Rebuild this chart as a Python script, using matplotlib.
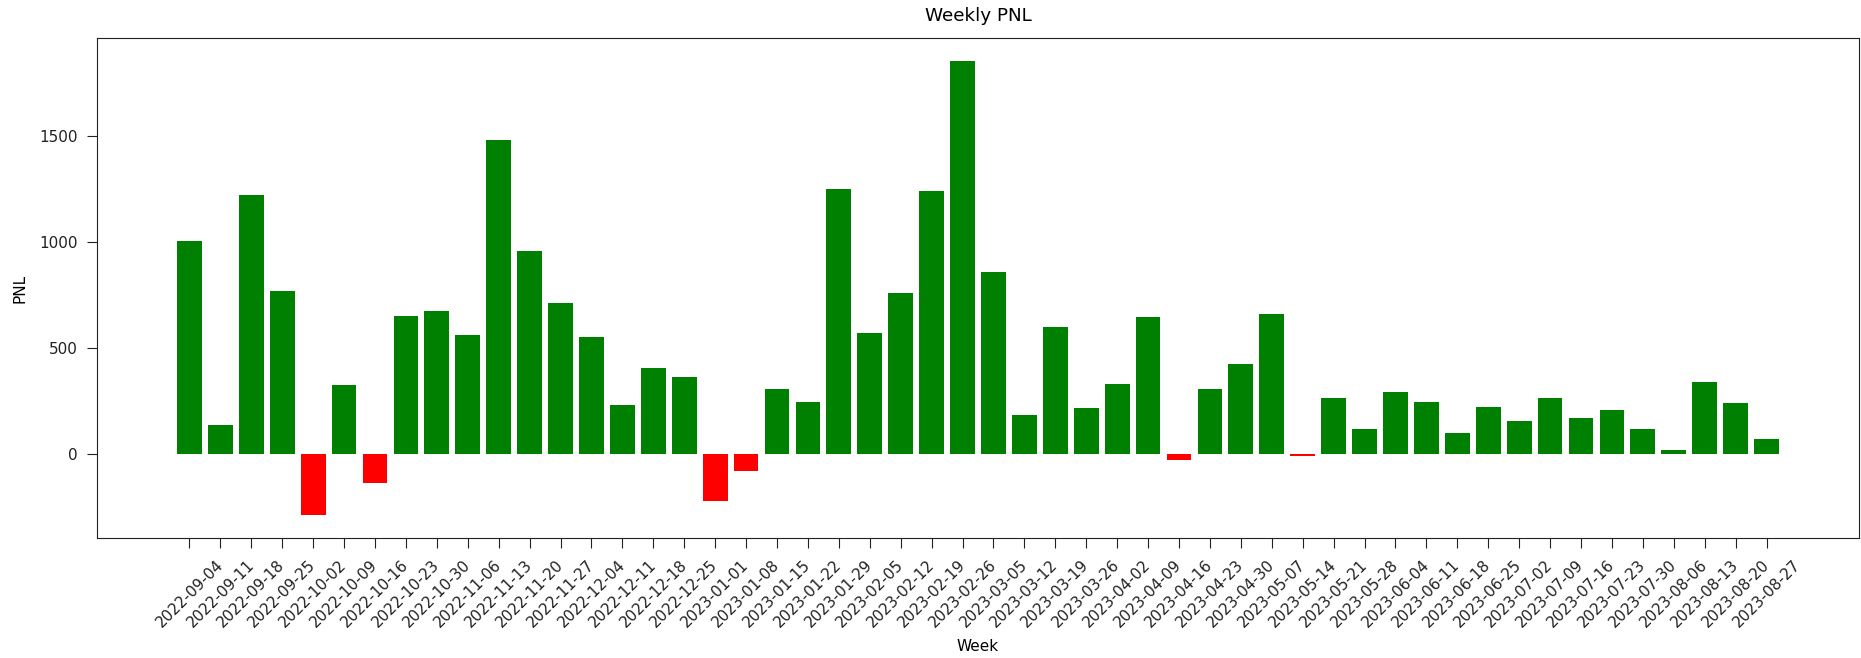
import pandas as pd
import matplotlib
matplotlib.use('Agg')
import matplotlib.pyplot as plt

plt.rcParams['font.family'] = 'DejaVu Sans'
plt.rcParams['font.size'] = 11

# weekly start dates (week labels)
weeks = pd.date_range('2022-09-04', '2023-08-27', freq='7D').strftime('%Y-%m-%d').tolist()

# PNL per week
pnl = [1003, 137, 1220, 767, -291, 322, -137, 652, 674, 560,
       1481, 959, 712, 552, 230, 406, 360, -222, -83, 307,
       245, 1248, 568, 758, 1241, 1855, 858, 184, 599, 215,
       330, 645, -30, 307, 423, 659, -13, 261, 115, 292,
       245, 99, 222, 154, 261, 168, 208, 115, 16, 338,
       237, 69]

colors = ['green' if v >= 0 else 'red' for v in pnl]

fig = plt.figure(figsize=(18.61, 6.58), dpi=100)
ax = fig.add_axes([97 / 1861, 120 / 658, 1762 / 1861, 500 / 658])

ax.bar(weeks, pnl, color=colors)

ax.set_title('Weekly PNL', fontsize=13.2, pad=12)
ax.set_xlabel('Week', labelpad=6)
ax.set_ylabel('PNL', labelpad=8)
ax.tick_params(axis='both', length=7, pad=7, colors='#222222')
for s in ax.spines.values():
    s.set_color('#222222')
plt.setp(ax.get_xticklabels(), rotation=45)

fig.savefig('out.png', dpi=100)
plt.close(fig)
